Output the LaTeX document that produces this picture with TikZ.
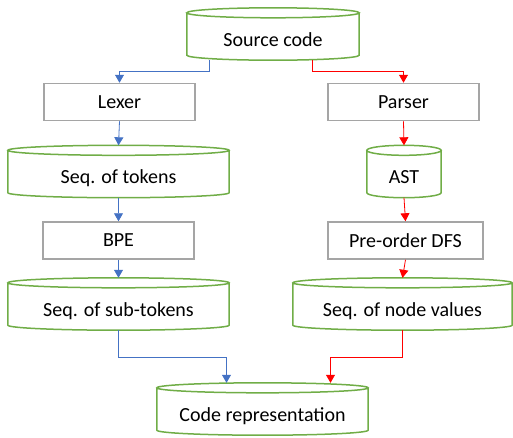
\documentclass[tikz,border=0pt]{standalone}
\usepackage{fontspec}
\setmainfont{Carlito}
\usetikzlibrary{arrows.meta,calc}

% outline of a flat drum round a named node
\newcommand{\drum}[1]{%
	\draw[drumline] let \p1=(#1.north west), \p2=(#1.south east), \n1={(\x2-\x1)/2} in
		([yshift=-5pt]#1.north west) -- ([yshift=5pt]#1.south west)
		arc[start angle=180, end angle=360, x radius=\n1, y radius=5pt]
		-- ([yshift=-5pt]#1.north east)
		([yshift=-5pt]#1.north) ellipse[x radius=\n1, y radius=5pt];
}

\begin{document}
\begin{tikzpicture}[x=1pt, y=-1pt, font=\fontsize{20}{24}\selectfont]

	% Colours
	\definecolor{drumcolor}{RGB}{112,173,71}
	\definecolor{boxcolor}{RGB}{165,165,165}
	\definecolor{lexcolor}{RGB}{68,114,196}
	\colorlet{parsecolor}{red}

	% Styles
	\tikzstyle{drumline} = [drumcolor, line width=1.5pt]
	\tikzstyle{drum} = [inner sep=0pt, text height=24pt, text depth=0pt, minimum height=52pt]
	\tikzstyle{stepbox} = [draw=boxcolor, line width=1.5pt, minimum width=151pt, minimum height=37pt, inner sep=0pt]
	\tikzstyle{lexflow} = [lexcolor, line width=0.8pt, -{Triangle[width=9pt,length=8pt]}]
	\tikzstyle{parseflow} = [parsecolor, line width=0.8pt, -{Triangle[width=9pt,length=8pt]}]

	\useasboundingbox (0,0) rectangle (513,437);

	%== Source ===========================================================
	\node[drum, minimum width=172pt] (src) at (273,34) {Source code};

	%== Token side =======================================================
	\node[stepbox] (lexer) at (119.5,102) {Lexer};
	\node[drum, minimum width=221pt] (tokens) at (118.5,171.5) {Seq. of tokens};
	\node[stepbox] (bpe) at (118.5,240.5) {BPE};
	\node[drum, minimum width=221pt] (subtok) at (118.5,304) {Seq. of sub-tokens};

	%== Tree side ========================================================
	\node[stepbox] (parser) at (403.5,102) {Parser};
	\node[drum, minimum width=74pt] (ast) at (404,171.5) {AST};
	\node[stepbox, minimum width=155pt] (dfs) at (405.5,240.5) {Pre-order DFS};
	\node[drum, minimum width=219pt] (nodeval) at (402.5,304) {Seq. of node values};

	%== Result ===========================================================
	\node[drum, minimum width=211pt] (code) at (262.5,409) {Code representation};

	\foreach \name in {src, tokens, subtok, ast, nodeval, code}
		{\drum{\name}}

	% Token flow
	\draw[lexflow] ([xshift=-64pt]src.south) -- ++(0,11) -| (lexer.north);
	\draw[lexflow] (lexer.south) -- (tokens.north);
	\draw[lexflow] (tokens.south) -- (bpe.north);
	\draw[lexflow] (bpe.south) -- (subtok.north);
	\draw[lexflow] (subtok.south) -- ++(0,27) -| ([xshift=-36pt]code.north);

	% Tree flow
	\draw[parseflow] ([xshift=39pt]src.south) -- ++(0,11) -| (parser.north);
	\draw[parseflow] (parser.south) -- (ast.north);
	\draw[parseflow] (ast.south) -- (dfs.north);
	\draw[parseflow] (dfs.south) -- (nodeval.north);
	\draw[parseflow] (nodeval.south) -- ++(0,27) -| ([xshift=68pt]code.north);

\end{tikzpicture}
\end{document}
